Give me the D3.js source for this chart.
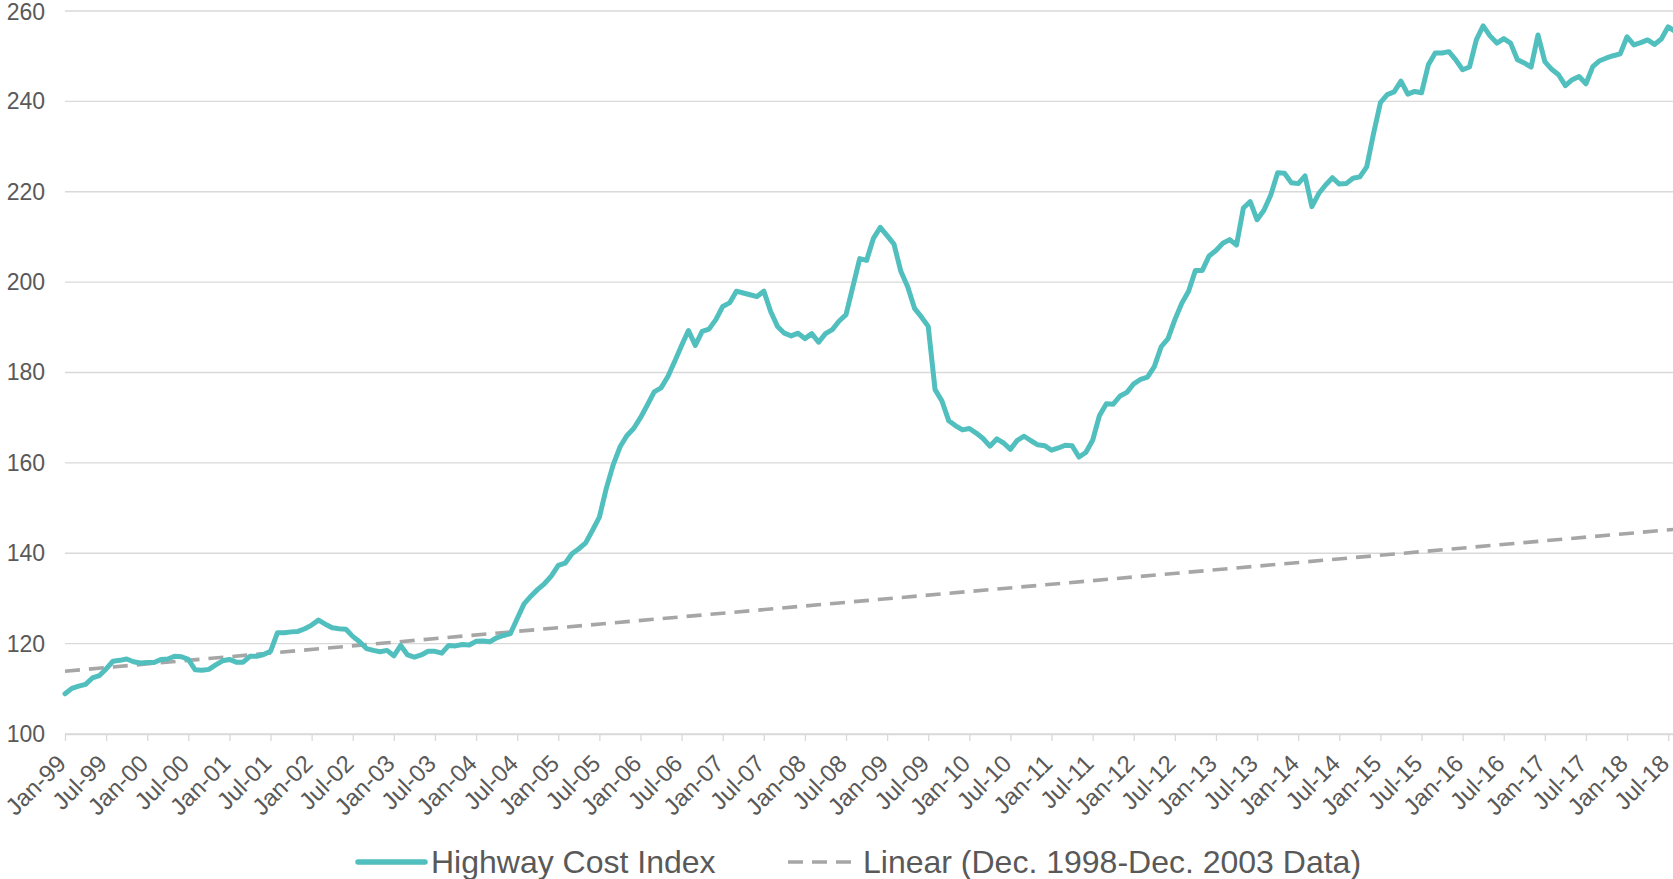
<!DOCTYPE html>
<html>
<head>
<meta charset="utf-8">
<script src="https://cdn.jsdelivr.net/npm/d3@7"></script>
<style>
  html, body { margin: 0; padding: 0; background: #ffffff; }
  svg { display: block; font-family: "Liberation Sans", Arial, sans-serif; }
</style>
</head>
<body>
<svg id="chart" width="1673" height="879"></svg>
<script>
// ---------------- DATA ----------------
const startMonth = new Date(1999, 0, 1);   // Jan-99
const endMonth = new Date(2018, 8, 1);     // exclusive (last = Aug-18)
const categories = d3.timeMonth.range(startMonth, endMonth).map(d3.timeFormat("%b-%y"));

const hciValues = [
  108.9,110.1,110.6,111.0,112.4,112.9,114.4,116.1,116.3,116.6,116.0,115.7,
  115.8,115.8,116.5,116.6,117.2,117.1,116.5,114.2,114.1,114.3,115.3,116.2,
  116.5,115.9,115.9,117.2,117.2,117.6,118.3,122.4,122.4,122.6,122.7,123.3,
  124.1,125.2,124.3,123.5,123.3,123.2,121.6,120.4,118.9,118.5,118.2,118.5,
  117.3,119.6,117.5,117.0,117.5,118.3,118.3,117.9,119.6,119.5,119.8,119.7,
  120.5,120.6,120.4,121.3,121.8,122.2,125.5,128.8,130.5,132.0,133.3,135.0,
  137.3,137.8,139.9,141.0,142.3,145.1,148.0,154.3,159.5,163.5,166.0,167.6,
  170.0,172.8,175.7,176.6,179.1,182.5,186.0,189.3,186.0,189.1,189.6,191.7,
  194.6,195.4,198.0,197.6,197.2,196.8,198.0,193.5,190.2,188.7,188.1,188.7,
  187.5,188.6,186.7,188.6,189.5,191.4,192.8,199.0,205.2,204.8,209.7,212.1,
  210.3,208.4,202.4,199.0,194.2,192.3,190.2,176.2,173.7,169.3,168.2,167.3,
  167.6,166.6,165.4,163.7,165.3,164.4,163.0,165.0,165.9,164.9,164.0,163.8,
  162.8,163.3,163.9,163.8,161.3,162.3,165.0,170.5,173.1,173.0,174.8,175.6,
  177.5,178.5,179.0,181.3,185.7,187.5,191.7,195.3,198.0,202.6,202.6,205.8,
  207.0,208.6,209.4,208.2,216.4,217.8,213.8,215.9,219.3,224.2,224.1,222.0,
  221.8,223.5,216.7,219.6,221.5,223.1,221.7,221.8,223.0,223.3,225.5,232.9,
  239.7,241.5,242.1,244.5,241.6,242.2,241.9,248.1,250.7,250.7,251.0,249.2,
  247.0,247.6,253.6,256.7,254.5,252.9,253.9,252.9,249.2,248.5,247.6,254.7,
  248.8,247.1,245.9,243.5,244.8,245.5,243.9,247.7,249.0,249.6,250.1,250.5,
  254.3,252.5,253.0,253.6,252.6,253.8,256.5,255.5
];

// Linear trend (Dec. 1998-Dec. 2003 fit), value at first and last category
const trendValues = [113.9, 145.3];

const tickLabels = [
  "Jan-99","Jul-99","Jan-00","Jul-00","Jan-01","Jul-01","Jan-02","Jul-02",
  "Jan-03","Jul-03","Jan-04","Jul-04","Jan-05","Jul-05","Jan-06","Jul-06",
  "Jan-07","Jul-07","Jan-08","Jul-08","Jan-09","Jul-09","Jan-10","Jul-10",
  "Jan-11","Jul-11","Jan-12","Jul-12","Jan-13","Jul-13","Jan-14","Jul-14",
  "Jan-15","Jul-15","Jan-16","Jul-16","Jan-17","Jul-17","Jan-18","Jul-18"
];
const yTicks = [100, 120, 140, 160, 180, 200, 220, 240, 260];

const seriesNames = ["Highway Cost Index", "Linear (Dec. 1998-Dec. 2003 Data)"];

// ---------------- CHART ----------------
const W = 1673, H = 879;
const plot = { left: 65, right: 1675, top: 11, bottom: 734 };
const textColor = "#595959";
const gridColor = "#d9d9d9";
const lineColor = "#52bfbf";
const trendColor = "#a6a6a6";
const fontFam = '"Liberation Sans", Arial, sans-serif';

const svg = d3.select("#chart");

const x = d3.scalePoint().domain(categories).range([plot.left, plot.right]).padding(0);
const y = d3.scaleLinear().domain([100, 260]).range([plot.bottom, plot.top]);

// Gridlines
svg.append("g").selectAll("line").data(yTicks).join("line")
  .attr("x1", plot.left).attr("x2", plot.right)
  .attr("y1", d => y(d)).attr("y2", d => y(d))
  .attr("stroke", gridColor).attr("stroke-width", 1.3);

// Y axis labels
const yAxis = d3.axisLeft(y).tickValues(yTicks).tickSize(0).tickPadding(0);
const yg = svg.append("g").attr("transform", `translate(${45},0)`).call(yAxis);
yg.select(".domain").remove();
yg.selectAll("text")
  .attr("fill", textColor).style("font-size", "23px")
  .style("font-family", fontFam)
  .attr("dy", d => d === 260 ? "0.38em" : "0.32em");

// X axis
const xAxis = d3.axisBottom(x).tickValues(tickLabels).tickSize(7).tickSizeOuter(0);
const xg = svg.append("g").attr("transform", `translate(0,${plot.bottom})`).call(xAxis);
xg.select(".domain").attr("stroke", gridColor).attr("stroke-width", 1.3);
xg.selectAll(".tick line").attr("stroke", gridColor).attr("stroke-width", 1.3);
xg.selectAll(".tick text")
  .attr("fill", textColor).style("font-size", "24px")
  .style("font-family", fontFam)
  .attr("text-anchor", "end")
  .attr("x", 0).attr("y", 0).attr("dy", "0.35em")
  .attr("transform", "translate(-4,25) rotate(-45)");

// Trend line
const trendPts = [
  [categories[0], trendValues[0]],
  [categories[categories.length - 1], trendValues[1]]
];
svg.append("path")
  .datum(trendPts)
  .attr("fill", "none")
  .attr("stroke", trendColor)
  .attr("stroke-width", 3.6)
  .attr("stroke-dasharray", "15,9")
  .attr("d", d3.line().x(d => x(d[0])).y(d => y(d[1])));

// Main series
svg.append("path")
  .datum(hciValues.map((v, i) => [categories[i], v]))
  .attr("fill", "none")
  .attr("stroke", lineColor)
  .attr("stroke-width", 5)
  .attr("stroke-linejoin", "round")
  .attr("stroke-linecap", "round")
  .attr("d", d3.line().x(d => x(d[0])).y(d => y(d[1])));

// Legend
const legY = 862;
const leg = svg.append("g");
leg.append("line").attr("x1", 358).attr("x2", 425).attr("y1", legY).attr("y2", legY)
  .attr("stroke", lineColor).attr("stroke-width", 5.5).attr("stroke-linecap", "round");
leg.append("text").attr("x", 431).attr("y", legY + 11)
  .attr("fill", textColor).style("font-size", "32px").style("font-family", fontFam)
  .text(seriesNames[0]);
leg.append("line").attr("x1", 788).attr("x2", 859).attr("y1", legY).attr("y2", legY)
  .attr("stroke", trendColor).attr("stroke-width", 3.6).attr("stroke-dasharray", "15,9");
leg.append("text").attr("x", 863).attr("y", legY + 11)
  .attr("fill", textColor).style("font-size", "32px").style("font-family", fontFam)
  .text(seriesNames[1]);
</script>
</body>
</html>
